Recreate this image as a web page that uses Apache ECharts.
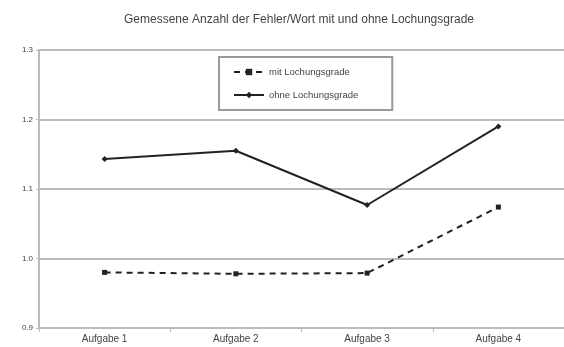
<!DOCTYPE html>
<html>
<head>
<meta charset="utf-8">
<script src="https://cdn.jsdelivr.net/npm/echarts@6/dist/echarts.min.js"></script>
<style>
  html, body { margin: 0; padding: 0; background: #fff; }
  #chart { width: 564px; height: 347px; }
</style>
</head>
<body>
<div id="chart"></div>
<script>
// Fehler pro Wort, gemessen in vier Durchgängen
const categories = ['Aufgabe 1', 'Aufgabe 2', 'Aufgabe 3', 'Aufgabe 4'];
const seriesNames = ['mit Lochungsgrade', 'ohne Lochungsgrade'];
const mitValues = [0.980, 0.978, 0.979, 1.074];
const ohneValues = [1.143, 1.155, 1.077, 1.190];
const yTicks = [0.9, 1.0, 1.1, 1.2, 1.3];

const chart = echarts.init(document.getElementById('chart'));
const fontFamily = 'Liberation Sans, Arial, sans-serif';

chart.setOption({
  animation: false,
  backgroundColor: '#ffffff',
  title: {
    text: 'Gemessene Anzahl der Fehler/Wort mit und ohne Lochungsgrade',
    left: 119,
    top: 9,
    textStyle: { fontSize: 12, fontWeight: 'normal', color: '#444', fontFamily }
  },
  legend: {
    data: seriesNames,
    orient: 'vertical',
    left: 219,
    top: 57,
    padding: [10, 34, 10, 14],
    itemGap: 13,
    itemWidth: 30,
    itemHeight: 8,
    borderColor: '#999',
    borderWidth: 2,
    textStyle: { fontSize: 9.5, color: '#444', fontFamily }
  },
  grid: { left: 39, right: -1, top: 50, bottom: 19 },
  xAxis: {
    type: 'category',
    data: categories,
    boundaryGap: true,
    axisLine: { lineStyle: { color: '#bbb', width: 2 } },
    axisTick: { show: true, alignWithLabel: false, length: 4, lineStyle: { color: '#bbb' } },
    axisLabel: { fontSize: 10, color: '#444', margin: 6, fontFamily }
  },
  yAxis: {
    type: 'value',
    min: yTicks[0],
    max: yTicks[yTicks.length - 1],
    interval: 0.1,
    axisLine: { show: true, lineStyle: { color: '#bbb', width: 2 } },
    axisTick: { show: true, length: 3, lineStyle: { color: '#bbb' } },
    splitLine: { lineStyle: { color: '#bbb', width: 2 } },
    axisLabel: { fontSize: 8, color: '#444', margin: 6, fontFamily,
      formatter: v => v.toFixed(1) }
  },
  series: [
    {
      name: seriesNames[0],
      type: 'line',
      data: mitValues,
      symbol: 'rect',
      symbolSize: 5,
      lineStyle: { color: '#222', width: 2, type: [6, 5] },
      itemStyle: { color: '#222' }
    },
    {
      name: seriesNames[1],
      type: 'line',
      data: ohneValues,
      symbol: 'diamond',
      symbolSize: 6,
      lineStyle: { color: '#222', width: 2 },
      itemStyle: { color: '#222' }
    }
  ]
});
</script>
</body>
</html>
